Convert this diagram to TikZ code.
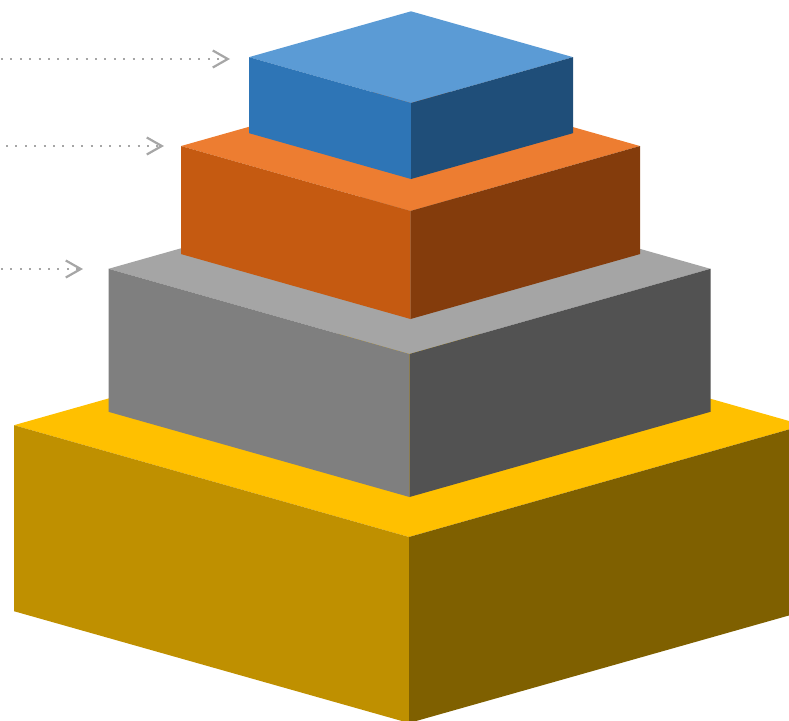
\documentclass[tikz,border=0pt]{standalone}
\usetikzlibrary{arrows.meta}
\definecolor{bluetop}{HTML}{5B9BD5}
\definecolor{blueleft}{HTML}{2E75B6}
\definecolor{blueright}{HTML}{1F4E79}
\definecolor{orangetop}{HTML}{ED7D31}
\definecolor{orangeleft}{HTML}{C55A11}
\definecolor{orangeright}{HTML}{843C0C}
\definecolor{graytop}{HTML}{A5A5A5}
\definecolor{grayleft}{HTML}{7F7F7F}
\definecolor{grayright}{HTML}{525252}
\definecolor{yellowtop}{HTML}{FFC000}
\definecolor{yellowleft}{HTML}{BF9000}
\definecolor{yellowright}{HTML}{7F6000}
\definecolor{arrowgray}{HTML}{A6A6A6}
% #1 cx, #2 front-top y, #3 half width, #4 height, #5 top, #6 left, #7 right
\newcommand\isobox[7]{%
  \fill[#5] (#1-#3,#2-#3*0.283) -- (#1,#2) -- (#1+#3,#2-#3*0.283) -- (#1,#2-2*#3*0.283) -- cycle;
  \fill[#6] (#1-#3,#2-#3*0.283) -- (#1,#2) -- (#1,#2+#4) -- (#1-#3,#2-#3*0.283+#4) -- cycle;
  \fill[#7] (#1,#2) -- (#1+#3,#2-#3*0.283) -- (#1+#3,#2-#3*0.283+#4) -- (#1,#2+#4) -- cycle;
}
\tikzset{
  pointer/.style={draw=arrowgray, line width=2pt, dash pattern=on 2pt off 7.4pt,
    -{Straight Barb[length=15pt, width=17pt, line width=2.2pt]}}
}
\begin{document}
\begin{tikzpicture}[x=1pt,y=-1pt]
\useasboundingbox (0,0) rectangle (789,720);
\clip (0,0) rectangle (789,720);
\isobox{409}{537}{395}{186}{yellowtop}{yellowleft}{yellowright}
\isobox{409.5}{354}{301}{143}{graytop}{grayleft}{grayright}
\isobox{410.5}{211}{229.5}{108}{orangetop}{orangeleft}{orangeright}
\isobox{411}{103}{162}{76}{bluetop}{blueleft}{blueright}
\coordinate (s1) at (1,59);   \coordinate (e1) at (230,59);
\coordinate (s2) at (6,146);  \coordinate (e2) at (164,146);
\coordinate (s3) at (1,269);  \coordinate (e3) at (83,269);
\draw[pointer] (s1) -- (e1);
\draw[pointer] (s2) -- (e2);
\draw[pointer] (s3) -- (e3);
\end{tikzpicture}
\end{document}
